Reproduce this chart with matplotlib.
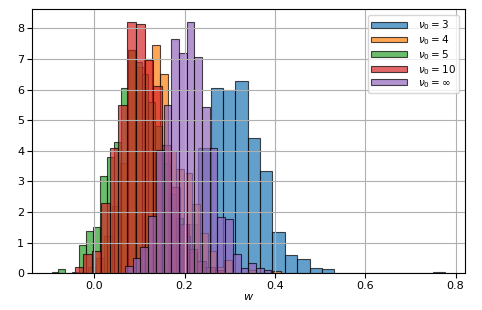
import matplotlib
matplotlib.use("Agg")
import matplotlib.pyplot as plt
import numpy as np

## === bin layout and densities ===
labels = [r'$\nu_0 = 3$', r'$\nu_0 = 4$', r'$\nu_0 = 5$', r'$\nu_0 = 10$', r'$\nu_0 = \infty$']

start_nu3 = 0.1211;  width_nu3 = 0.02735
dens_nu3 = [0.1, 0.3, 0.9, 1.6, 4.08, 6.05, 6.0, 6.27, 4.41, 3.34, 1.35, 0.58, 0.47,
            0.17, 0.13, 0, 0, 0, 0, 0, 0, 0, 0, 0.04]

start_nu4 = -0.032;  width_nu4 = 0.01778
dens_nu4 = [0.05, 0.2, 0.5, 1.2, 2.2, 3.6, 7.3, 6.75, 7.0, 7.44, 6.5, 4.0, 3.4, 3.27,
            2.26, 1.31, 0.71, 0.2, 0.43, 0, 0, 0.1, 0, 0, 0.06]

start_nu5 = -0.0947;  width_nu5 = 0.01533
dens_nu5 = [0.05, 0.15, 0, 0.05, 0.92, 1.38, 1.51, 3.18, 3.81, 4.28, 6.05, 7.3, 6.9, 6.5,
            5.6, 4.8, 3.6, 2.6, 1.8, 1.2, 0.7, 0.4, 0.2, 0.1]

start_nu10 = -0.0435;  width_nu10 = 0.0194
dens_nu10 = [0.2, 0.61, 0.73, 2.29, 4.09, 5.49, 8.2, 8.14, 6.97, 6.12, 4.2, 2.8, 1.6,
             0.8, 0.4, 0.2, 0.1]

start_inf = 0.0682;  width_inf = 0.01704
dens_inf = [0.22, 0.51, 0.85, 1.88, 4.03, 5.5, 7.65, 7.19, 8.22, 7.06, 5.42, 4.08, 1.83,
            1.77, 0.62, 0.16, 0.33, 0.18, 0.1]

series = [(start_nu3, width_nu3, dens_nu3),
          (start_nu4, width_nu4, dens_nu4),
          (start_nu5, width_nu5, dens_nu5),
          (start_nu10, width_nu10, dens_nu10),
          (start_inf, width_inf, dens_inf)]
colors = ['tab:blue', 'tab:orange', 'tab:green', 'tab:red', 'tab:purple']
fs = 8
## === ===

plt.rcParams['font.size'] = fs
fig = plt.figure(figsize=(4.82, 3.10), dpi=100)
ax = fig.add_axes([0.066, 0.119, 0.899, 0.852])

for (s, w, d), cl, lab in zip(series, colors, labels):
    d = np.array(d)
    edges = s + w*np.arange(len(d)+1)
    centers = 0.5*(edges[:-1] + edges[1:])
    ax.hist(centers, bins=edges, weights=d, alpha=0.7, color=cl,
            edgecolor='k', linewidth=0.8, label=lab)

ax.set_yticks(range(9))
ax.set_xticks([0.0, 0.2, 0.4, 0.6, 0.8])
ax.grid(True)
ax.set_xlabel('$w$', fontsize=fs, labelpad=1)
ax.tick_params(labelsize=fs, pad=2)
ax.legend(loc='upper right', fontsize=7.5, labelspacing=0.1, handlelength=3.5,
          handleheight=0.5, handletextpad=1.0, borderpad=0.3, borderaxespad=0.6)

fig.savefig('out.png', dpi=100)
